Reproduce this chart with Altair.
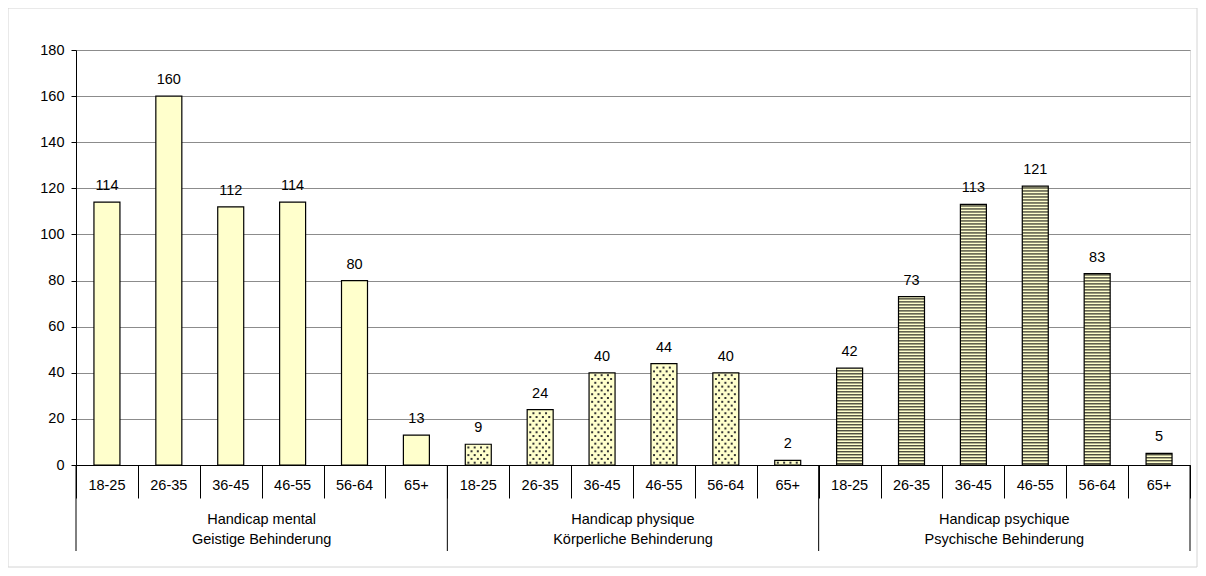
import altair as alt
import pandas as pd

# ---- data ----
groups = ["Handicap mental\nGeistige Behinderung",
          "Handicap physique\nKörperliche Behinderung",
          "Handicap psychique\nPsychische Behinderung"]
ages = ["18-25", "26-35", "36-45", "46-55", "56-64", "65+"]
values_mental = [114, 160, 112, 114, 80, 13]
values_physique = [9, 24, 40, 44, 40, 2]
values_psychique = [42, 73, 113, 121, 83, 5]
y_ticks = list(range(0, 181, 20))

series = [values_mental, values_physique, values_psychique]
rows = []
for g, vals in enumerate(series):
    for a, (age, v) in enumerate(zip(ages, vals)):
        rows.append({"g": g, "group": groups[g], "age": age,
                     "idx": g * len(ages) + a, "value": v})
df = pd.DataFrame(rows)
ncat = len(df)
bounds = pd.DataFrame({"b": [i * len(ages) for i in range(len(groups) + 1)]})
gdf = pd.DataFrame({"group": groups,
                    "gc": [i * len(ages) + len(ages) / 2 for i in range(len(groups))]})

FONT = "Liberation Sans"
FS = 14.5
FILL = "#FFFFCC"
W, H = 1114, 415

xscale = alt.Scale(domain=[0, ncat], nice=False, zero=False)
yscale = alt.Scale(domain=[0, 180], nice=False)

base = alt.Chart(df).transform_calculate(
    x0="datum.idx + 0.29", x1="datum.idx + 0.71", xc="datum.idx + 0.5"
)

bars_fill = base.mark_rect(fill=FILL, stroke=None).encode(
    x=alt.X("x0:Q", scale=xscale,
            axis=alt.Axis(values=list(range(ncat + 1)), labels=False, title=None,
                          grid=False, tickSize=33, tickColor="black",
                          domainColor="black", tickWidth=1)),
    x2="x1:Q",
    y=alt.Y("value:Q", scale=yscale,
            axis=alt.Axis(values=y_ticks, title=None, tickSize=5, tickColor="black",
                          domainColor="black", labelFontSize=FS, labelColor="black",
                          labelPadding=7, gridColor="#8c8c8c", labelFont=FONT)),
    y2=alt.datum(0),
)

stripes = base.transform_filter("datum.g == 2").transform_calculate(
    s="sequence(0.25, datum.value - 0.4, 1.3)"
).transform_flatten(["s"]).transform_calculate(
    s2="datum.s + 0.62"
).mark_rect(fill="#4f4f40", stroke=None).encode(
    x="x0:Q", x2="x1:Q", y="s:Q", y2="s2:Q"
)

dots = base.transform_filter("datum.g == 1").transform_calculate(
    r="sequence(1.0, datum.value - 0.5, 1.65)"
).transform_flatten(["r"]).transform_calculate(
    ri="round((datum.r - 1.0) / 1.65)"
).transform_calculate(
    c="sequence(datum.x0 + 0.05 + (datum.ri % 2) * 0.051, datum.x1 - 0.03, 0.102)"
).transform_flatten(["c"]).mark_square(size=4, color="#333333", opacity=1).encode(
    x="c:Q", y="r:Q"
)

bars_outline = base.mark_rect(fill=None, stroke="black", strokeWidth=1.2).encode(
    x="x0:Q", x2="x1:Q", y="value:Q", y2=alt.datum(0)
)

value_labels = base.mark_text(font=FONT, fontSize=FS, color="black",
                              baseline="alphabetic", dy=-12).encode(
    x="xc:Q", y="value:Q", text="value:Q"
)

age_labels = base.mark_text(font=FONT, fontSize=FS, color="black",
                            baseline="middle").encode(
    x="xc:Q", y=alt.value(436), text="age:N"
)

group_labels = alt.Chart(gdf).mark_text(font=FONT, fontSize=FS, color="black",
                                        baseline="middle", lineBreak="\n",
                                        lineHeight=20).encode(
    x="gc:Q", y=alt.value(470), text="group:N"
)

group_rules = alt.Chart(bounds).mark_rule(color="black", strokeWidth=1).encode(
    x="b:Q", y=alt.value(H), y2=alt.value(501)
)

frame = alt.Chart(pd.DataFrame({"a": [0]})).mark_rect(
    fill=None, stroke="#d4d4d4", strokeWidth=1
).encode(x=alt.value(-68), x2=alt.value(1121), y=alt.value(-42), y2=alt.value(517))

chart = alt.layer(
    frame, bars_fill, stripes, dots, bars_outline, value_labels,
    age_labels, group_labels, group_rules
).properties(
    width=W, height=H,
    autosize=alt.AutoSizeParams(type="none"),
    padding={"left": 68, "top": 42, "right": 8, "bottom": 104},
).configure_view(
    stroke="#808080", strokeWidth=1.5
).configure(font=FONT)

chart.save("out.html", embed_options={"renderer": "svg", "actions": False})
